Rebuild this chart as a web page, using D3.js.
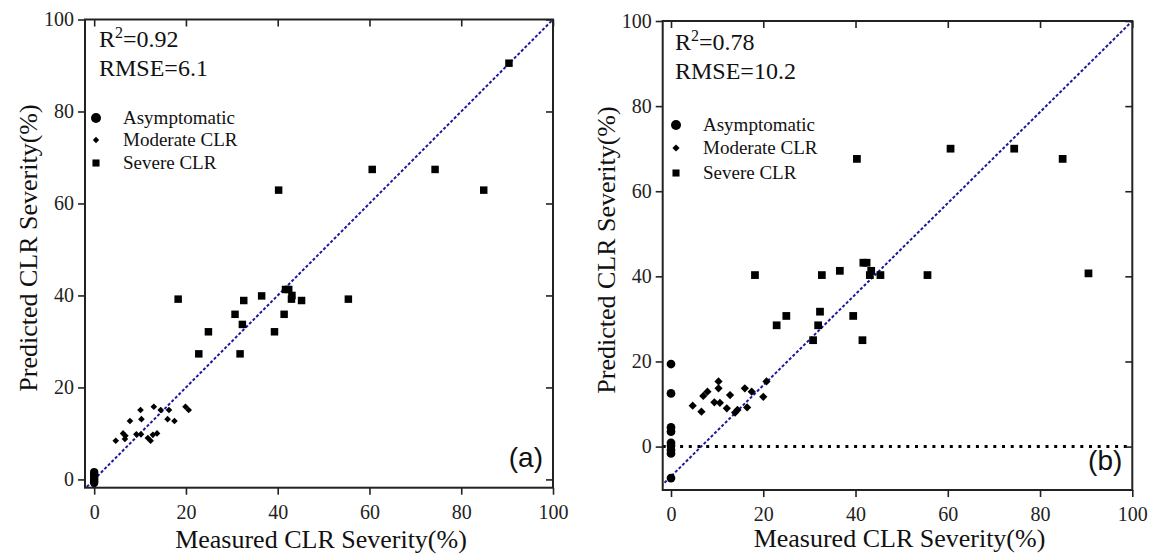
<!DOCTYPE html>
<html><head><meta charset="utf-8">
<script src="https://cdn.jsdelivr.net/npm/d3@7"></script>
<style>
html,body{margin:0;padding:0;background:#fff;}
svg{display:block;}
</style></head>
<body>
<svg id="chart" width="1153" height="555"></svg>
<script>
// ---------- data ----------
const xTicks = [0, 20, 40, 60, 80, 100];
const yTicks = [0, 20, 40, 60, 80, 100];
const seriesNames = ["Asymptomatic", "Moderate CLR", "Severe CLR"];
const panelLabels = ["(a)", "(b)"];
const statR2 = ["0.92", "0.78"];
const statRMSE = ["6.1", "10.2"];

// panel (a)
const aAsymX = [0, 0, 0, 0, 0, 0, 0];
const aAsymY = [1.6, 1.2, 0.8, 0.3, 0, -0.4, -0.8];
const aModX = [4.7, 6.3, 6.8, 6.7, 7.8, 10.1, 10.3, 9.2, 10.2, 11.7, 12.3, 13.0, 13.7, 14.5, 16.3, 16.0, 17.5, 19.9, 20.6, 12.8];
const aModY = [8.4, 10.0, 9.5, 8.8, 12.7, 15.1, 13.1, 9.8, 9.8, 9.0, 8.4, 15.8, 10.0, 15.1, 15.1, 13.1, 12.7, 15.8, 15.1, 9.7];
const aSevX = [90.4, 60.6, 74.3, 84.9, 40.2, 18.3, 32.6, 36.5, 41.7, 42.4, 43.1, 43.0, 45.2, 55.4, 30.7, 41.4, 32.3, 24.9, 39.3, 22.8, 31.8];
const aSevY = [90.5, 67.4, 67.4, 62.9, 62.9, 39.2, 38.9, 39.9, 41.3, 41.3, 40.0, 39.2, 38.9, 39.2, 35.9, 35.9, 33.7, 32.1, 32.1, 27.3, 27.3];
const aLine = [1.0, 0.0]; // slope, intercept

// panel (b)
const bAsymX = [0, 0, 0, 0, 0, 0, 0, 0, 0];
const bAsymY = [19.4, 12.5, 4.5, 3.5, 0.9, 0.2, -0.8, -1.6, -7.4];
const bModX = [4.7, 6.6, 7.0, 7.9, 9.4, 10.3, 10.3, 10.6, 12.1, 12.8, 14.4, 13.9, 16.0, 16.5, 17.5, 20.0, 20.7];
const bModY = [9.6, 8.2, 11.9, 12.9, 10.4, 15.3, 13.7, 10.3, 9.0, 12.1, 8.6, 8.0, 13.7, 9.2, 12.9, 11.7, 15.3];
const bSevX = [60.6, 74.4, 84.9, 40.3, 18.2, 32.7, 36.6, 41.7, 42.4, 43.4, 43.1, 45.4, 55.6, 90.5, 32.3, 25.0, 22.9, 31.9, 39.5, 30.8, 41.5];
const bSevY = [70.0, 70.0, 67.6, 67.6, 40.3, 40.3, 41.3, 43.2, 43.2, 41.3, 40.3, 40.3, 40.3, 40.7, 31.7, 30.7, 28.5, 28.5, 30.7, 25.0, 25.0];
const bLine = [1.07, -7.0];

// ---------- drawing ----------
const svg = d3.select("#chart");
const SERIF = "'Liberation Serif','Times New Roman',serif";
const SANS = "'Liberation Sans',Arial,sans-serif";
const AX = "#222";

function zip(xs, ys) { return xs.map((x, i) => [x, ys[i]]); }

function drawPanel(p, idx) {
  const x = d3.scaleLinear().domain(p.xDom).range([p.left, p.right]);
  const y = d3.scaleLinear().domain(p.yDom).range([p.bottom, p.top]);
  const g = svg.append("g");
  const clipId = "clip" + idx;
  g.append("clipPath").attr("id", clipId).append("rect")
    .attr("x", p.left).attr("y", p.top).attr("width", p.right - p.left).attr("height", p.bottom - p.top);

  // zero dotted line
  if (p.zeroLine) {
    g.append("line").attr("x1", x(p.xDom[0])).attr("x2", x(p.xDom[1]))
      .attr("y1", y(0)).attr("y2", y(0))
      .attr("stroke", "#000").attr("stroke-width", 3).attr("stroke-dasharray", "3,5.7");
  }
  // fit line
  const lx = [p.xDom[0] - 5, p.xDom[1] + 5];
  g.append("line").attr("clip-path", `url(#${clipId})`)
    .attr("x1", x(lx[0])).attr("y1", y(p.line[0] * lx[0] + p.line[1]))
    .attr("x2", x(lx[1])).attr("y2", y(p.line[0] * lx[1] + p.line[1]))
    .attr("stroke", "#1a1a9a").attr("stroke-width", 2).attr("stroke-dasharray", "3,2");

  // points
  const circ = d3.symbol().type(d3.symbolCircle).size(p.circSize);
  const sq = d3.symbol().type(d3.symbolSquare).size(p.sqSize);
  const dia = d3.symbol().type(d3.symbolSquare).size(p.diaSize);
  g.selectAll(null).data(zip(p.asymX, p.asymY)).enter().append("path")
    .attr("d", circ).attr("transform", d => `translate(${x(d[0])},${y(d[1])})`).attr("fill", "#000");
  g.selectAll(null).data(zip(p.modX, p.modY)).enter().append("path")
    .attr("d", dia).attr("transform", d => `translate(${x(d[0])},${y(d[1])}) rotate(45)`).attr("fill", "#000");
  g.selectAll(null).data(zip(p.sevX, p.sevY)).enter().append("path")
    .attr("d", sq).attr("transform", d => `translate(${x(d[0])},${y(d[1])})`).attr("fill", "#000");

  // axes
  const styleAxis = sel => {
    sel.select(".domain").remove();
    sel.selectAll(".tick line").attr("stroke", AX).attr("stroke-width", 1.6);
    sel.selectAll("text").attr("font-family", SERIF).attr("font-size", 20).attr("fill", "#222");
  };
  g.append("g").attr("transform", `translate(0,${p.bottom})`)
    .call(d3.axisBottom(x).tickValues(xTicks).tickSize(7).tickPadding(10).tickFormat(d3.format("d")))
    .call(styleAxis);
  g.append("g").attr("transform", `translate(${p.left},0)`)
    .call(d3.axisLeft(y).tickValues(yTicks).tickSize(7).tickPadding(4).tickFormat(d3.format("d")))
    .call(styleAxis);
  g.append("g").attr("transform", `translate(0,${p.top})`)
    .call(d3.axisTop(x).tickValues(xTicks).tickSize(-7).tickFormat(""))
    .call(styleAxis);
  g.append("g").attr("transform", `translate(${p.right},0)`)
    .call(d3.axisRight(y).tickValues(yTicks).tickSize(-7).tickFormat(""))
    .call(styleAxis);
  g.append("rect").attr("x", p.left).attr("y", p.top)
    .attr("width", p.right - p.left).attr("height", p.bottom - p.top)
    .attr("fill", "none").attr("stroke", AX).attr("stroke-width", 2);

  // axis titles
  g.append("text").attr("x", (p.left + p.right) / 2 + 2).attr("y", p.xTitleY)
    .attr("text-anchor", "middle").attr("font-family", SERIF).attr("font-size", 26).attr("fill", "#111")
    .text("Measured CLR Severity(%)");
  g.append("text").attr("transform", `translate(${p.yTitleX},${p.yTitleCY}) rotate(-90)`)
    .attr("text-anchor", "middle").attr("font-family", SERIF).attr("font-size", 26).attr("fill", "#111")
    .text("Predicted CLR Severity(%)");

  // stats
  const t = g.append("text").attr("x", p.statX).attr("y", p.statY1)
    .attr("font-family", SERIF).attr("font-size", 24).attr("fill", "#111");
  t.append("tspan").text("R");
  t.append("tspan").attr("font-size", 16).attr("dy", -9).text("2");
  t.append("tspan").attr("dy", 9).text("=" + statR2[idx]);
  g.append("text").attr("x", p.statX).attr("y", p.statY2)
    .attr("font-family", SERIF).attr("font-size", 24).attr("fill", "#111")
    .text("RMSE=" + statRMSE[idx]);

  // legend
  const lg = g.append("g");
  const legSyms = [
    d3.symbol().type(d3.symbolCircle).size(78)(),
    d3.symbol().type(d3.symbolSquare).size(p.legDia)(),
    d3.symbol().type(d3.symbolSquare).size(50)()
  ];
  seriesNames.forEach((name, i) => {
    const cy = p.legY[i];
    lg.append("path").attr("d", legSyms[i])
      .attr("transform", `translate(${p.legMX},${cy})` + (i === 1 ? " rotate(45)" : ""))
      .attr("fill", "#000");
    lg.append("text").attr("x", p.legTX).attr("y", cy + 6)
      .attr("font-family", SERIF).attr("font-size", 19).attr("fill", "#111").text(name);
  });

  // panel label
  g.append("text").attr("x", p.right - 10).attr("y", p.labelY)
    .attr("text-anchor", "end").attr("font-family", SANS).attr("font-size", 28).attr("fill", "#111")
    .text(panelLabels[idx]);
}

drawPanel({
  xDom: [-2, 100], yDom: [-1.8, 100],
  left: 85, right: 553, top: 19.5, bottom: 487.7,
  asymX: aAsymX, asymY: aAsymY, modX: aModX, modY: aModY, sevX: aSevX, sevY: aSevY,
  line: aLine, zeroLine: false,
  circSize: 55, sqSize: 56, diaSize: 22,
  xTitleY: 548, yTitleX: 37, yTitleCY: 248,
  statX: 99, statY1: 47, statY2: 76,
  legMX: 96, legTX: 123, legY: [118, 140, 163], legDia: 20,
  labelY: 467
}, 0);

drawPanel({
  xDom: [-1.8, 100], yDom: [-10.2, 100],
  left: 662.7, right: 1132.3, top: 21, bottom: 490,
  asymX: bAsymX, asymY: bAsymY, modX: bModX, modY: bModY, sevX: bSevX, sevY: bSevY,
  line: bLine, zeroLine: true,
  circSize: 60, sqSize: 60, diaSize: 34,
  xTitleY: 547, yTitleX: 615, yTitleCY: 250,
  statX: 675, statY1: 50, statY2: 79,
  legMX: 676, legTX: 703, legY: [125, 148, 173], legDia: 26,
  labelY: 470
}, 1);
</script>
</body></html>
